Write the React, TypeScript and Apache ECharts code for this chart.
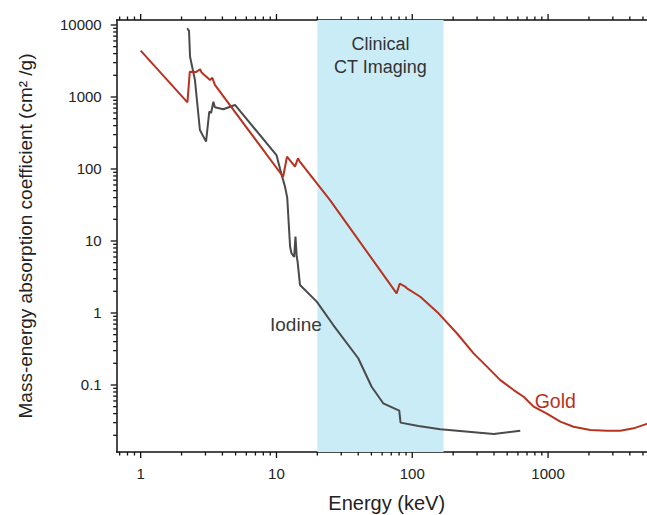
import React, { useEffect, useRef } from "react";
import * as echarts from "echarts";

// ---- Data ----
const goldEnergy = [1.0, 2.21, 2.3, 2.55, 2.74, 2.81, 3.24, 3.37, 3.52, 11.2, 11.95, 13.7, 14.4, 14.8, 24.8, 76.7, 80.8, 88, 91.4, 114.6, 156, 213, 283, 355, 445, 558, 661, 783, 980, 1230, 1540, 2050, 2700, 3400, 4270, 5330, 6300];
const goldCoef = [4400, 843, 2250, 2220, 2430, 2180, 1720, 1850, 1470, 78, 148, 108, 141, 128, 37, 1.87, 2.55, 2.35, 2.2, 1.68, 0.99, 0.523, 0.275, 0.18, 0.117, 0.085, 0.0687, 0.05, 0.04, 0.031, 0.0263, 0.0237, 0.0232, 0.0232, 0.025, 0.0288, 0.031];

const iodineEnergy = [2.2, 2.27, 2.31, 2.51, 2.73, 3.03, 3.2, 3.3, 3.43, 3.52, 4.06, 4.95, 10.0, 10.6, 11.2, 11.55, 12.0, 12.6, 12.9, 13.5, 13.8, 14.1, 14.3, 14.9, 19.8, 26.2, 40, 50.2, 61.1, 80.2, 82, 111, 161, 398, 624];
const iodineCoef = [9000, 8300, 3630, 1720, 348, 240, 625, 600, 860, 720, 675, 775, 156, 102, 70, 57, 40, 8.3, 6.75, 6.0, 11.5, 6.05, 5.2, 2.45, 1.44, 0.68, 0.235, 0.0946, 0.0557, 0.044, 0.03, 0.027, 0.0243, 0.0209, 0.0232];

const ctBand = [20, 170];
const xMajorTicks = [1, 10, 100, 1000];
const yMajorTicks = [0.1, 1, 10, 100, 1000, 10000];
const xMin = 0.666;
const xMax = 6310;
const yMin = 0.01173;
const yMax = 11730;

const iodineLabelAt = [13.9, 0.7];
const goldLabelAt = [1130, 0.06];

function minorTicks(lo: number, hi: number): number[] {
  const out: number[] = [];
  for (let e = -3; e <= 5; e++) {
    for (let m = 2; m <= 9; m++) {
      const v = parseFloat((m * Math.pow(10, e)).toPrecision(6));
      if (v > lo && v < hi) out.push(v);
    }
  }
  return out;
}

const FONT = "'Liberation Sans', Arial, Helvetica, sans-serif";
const AXIS_COLOR = "#111";
const GOLD = "#b8321f";
const IODINE = "#4a4a4a";
const MAJOR_LEN = 6;
const MINOR_LEN = 3.5;
const TICK_W = 1.3;

export default function App() {
  const ref = useRef<HTMLDivElement>(null);
  useEffect(() => {
    if (!ref.current) return;
    const chart = echarts.init(ref.current, null, { renderer: "svg" });
    const gold = goldEnergy.map((e, i) => [e, goldCoef[i]]);
    const iodine = iodineEnergy.map((e, i) => [e, iodineCoef[i]]);

    const fmt = (v: number) => String(v);

    chart.setOption({
      animation: false,
      textStyle: { fontFamily: FONT },
      grid: { left: 116.7, top: 20, right: 8.3, bottom: 63, containLabel: false, outerBoundsMode: "none" },
      xAxis: [
        {
          type: "log",
          logBase: 10,
          min: xMin,
          max: xMax,
          position: "bottom",
          axisLine: { show: true, lineStyle: { color: AXIS_COLOR, width: 1.5 } },
          axisTick: { show: false },
          axisLabel: {
            show: true,
            formatter: (v: number) => (xMajorTicks.indexOf(v) >= 0 ? fmt(v) : ""),
            margin: 14,
            fontSize: 15,
            color: "#222",
            fontFamily: FONT,
          },
          splitLine: { show: false },
          name: "Energy (keV)",
          nameLocation: "middle",
          nameGap: 41,
          nameTextStyle: { fontSize: 20, color: "#222", fontFamily: FONT },
        },
        {
          type: "log",
          logBase: 10,
          min: xMin,
          max: xMax,
          position: "top",
          axisLine: { show: true, lineStyle: { color: AXIS_COLOR, width: 1.5 } },
          axisTick: { show: false },
          axisLabel: { show: false },
          splitLine: { show: false },
        },
      ],
      yAxis: [
        {
          type: "log",
          logBase: 10,
          min: yMin,
          max: yMax,
          position: "left",
          axisLine: { show: true, lineStyle: { color: AXIS_COLOR, width: 1.5 } },
          axisTick: { show: false },
          axisLabel: {
            show: true,
            formatter: (v: number) => (yMajorTicks.indexOf(v) >= 0 ? fmt(v) : ""),
            margin: 15,
            fontSize: 15,
            color: "#222",
            fontFamily: FONT,
          },
          splitLine: { show: false },
          name: "Mass-energy absorption coefficient (cm² /g)",
          nameLocation: "middle",
          nameGap: 82,
          nameTextStyle: { fontSize: 19, color: "#222", fontFamily: FONT },
        },
      ],
      series: [
        {
          type: "line",
          name: "Iodine",
          xAxisIndex: 0,
          yAxisIndex: 0,
          data: iodine,
          symbol: "none",
          z: 3,
          lineStyle: { color: IODINE, width: 2 },
          markArea: {
            silent: true,
            z: 1,
            itemStyle: { color: "#c9ecf7", opacity: 1 },
            label: {
              show: true,
              position: "insideTop",
              distance: 12,
              formatter: "Clinical\nCT Imaging",
              fontSize: 18,
              lineHeight: 23,
              color: "#333",
              fontFamily: FONT,
            },
            data: [[{ xAxis: ctBand[0] }, { xAxis: ctBand[1] }]],
          },
          markPoint: {
            symbol: "circle",
            symbolSize: 0,
            label: { show: true, position: "inside", formatter: "Iodine", fontSize: 19, color: "#3a3a3a", fontFamily: FONT },
            data: [{ coord: iodineLabelAt }],
          },
        },
        {
          type: "line",
          name: "Gold",
          xAxisIndex: 0,
          yAxisIndex: 0,
          data: gold,
          symbol: "none",
          z: 4,
          lineStyle: { color: GOLD, width: 2 },
          markPoint: {
            symbol: "circle",
            symbolSize: 0,
            label: { show: true, position: "inside", formatter: "Gold", fontSize: 19.5, color: GOLD, fontFamily: FONT },
            data: [{ coord: goldLabelAt }],
          },
        },
      ],
    });

    // Axis ticks (major + minor, log spaced), positioned through the chart's own scales,
    // drawn as thin filled rectangles.
    const elements: any[] = [];
    try {
      const toPx = (x: number, y: number): number[] =>
        chart.convertToPixel({ xAxisIndex: 0, yAxisIndex: 0 }, [x, y]) as any;
      const bar = (x: number, y: number, w: number, h: number) => {
        elements.push({
          type: "rect",
          z: 10,
          silent: true,
          shape: { x, y, width: w, height: h },
          style: { fill: AXIS_COLOR },
        });
      };
      const xTickVals = xMajorTicks.concat(minorTicks(xMin, xMax));
      xTickVals.forEach((v) => {
        const len = xMajorTicks.indexOf(v) >= 0 ? MAJOR_LEN : MINOR_LEN;
        const b = toPx(v, yMin);
        const t = toPx(v, yMax);
        bar(b[0] - TICK_W / 2, b[1], TICK_W, len);
        bar(t[0] - TICK_W / 2, t[1] - len, TICK_W, len);
      });
      const yTickVals = yMajorTicks.concat(minorTicks(yMin, yMax));
      yTickVals.forEach((v) => {
        const len = yMajorTicks.indexOf(v) >= 0 ? MAJOR_LEN : MINOR_LEN;
        const p = toPx(xMin, v);
        bar(p[0] - len, p[1] - TICK_W / 2, len, TICK_W);
      });
    } catch (err) {
      // ignore
    }
    chart.setOption({ graphic: elements });

    return () => chart.dispose();
  }, []);
  return (
    <div
      ref={ref}
      style={{ position: "fixed", left: 0, top: 0, width: 665, height: 515, background: "#fff" }}
    />
  );
}
